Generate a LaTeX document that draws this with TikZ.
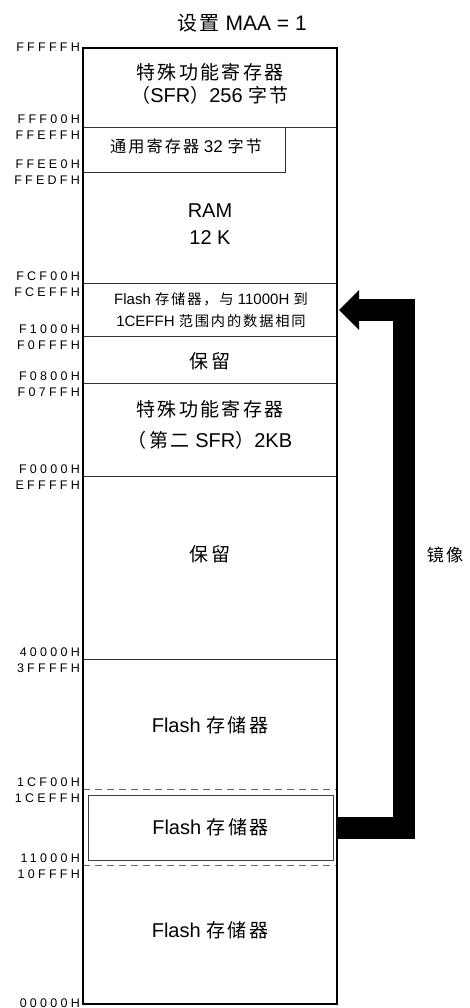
\documentclass[tikz,border=0pt]{standalone}
\usepackage{fontspec}
\setmainfont{Liberation Sans}
\newfontfamily\cjk[Scale=0.95,LetterSpace=13]{Noto Sans CJK SC}
\newfontfamily\addrfont[LetterSpace=26]{Liberation Sans}
\usetikzlibrary{arrows.meta}
\newcommand\C[1]{{\cjk #1}}
\begin{document}
\begin{tikzpicture}[x=1pt,y=-1pt,
  addr/.style={anchor=base east, inner sep=0pt, font=\addrfont\fontsize{12.5}{14}\selectfont},
  lbl/.style={align=center, inner sep=0pt, font=\fontsize{20}{23}\selectfont},
  sep/.style={line width=0.7pt, black!80},
  dashline/.style={line width=0.8pt, black!60, dash pattern=on 7pt off 5pt},
  border/.style={line width=1.2pt},
  innerbox/.style={draw=black!75, line width=0.8pt, minimum width=245pt, minimum height=65pt, inner sep=0pt, align=center, font=\fontsize{20}{23}\selectfont},
  mirrorarrow/.style={line width=22pt, line join=miter, -{Triangle[length=20pt,width=40pt,line width=0pt]}}]
\useasboundingbox (0,0) rectangle (470,1008);
% separators
\draw[sep] (83,127) -- (337,127);
\draw[sep] (83,172) -- (285,172) -- (285,127);
\draw[sep] (83,283) -- (337,283);
\draw[sep] (83,336) -- (337,336);
\draw[sep] (83,383) -- (337,383);
\draw[sep] (83,476) -- (337,476);
\draw[sep] (83,659) -- (337,659);
\draw[dashline] (83,789) -- (337,789);
\draw[dashline] (83,865) -- (337,865);
\draw[border] (83,48) rectangle (337,1004);
% texts
\node[lbl, font=\fontsize{21}{24}\selectfont] (title) at (242,23) {\C{设置} MAA = 1};
\node[lbl] (sfr) at (210,84) {\C{特殊功能寄存器}\\\C{（}SFR\C{）}256 \C{字节}};
\node[lbl, font=\fontsize{17}{20}\selectfont] (gpr) at (186,146) {\C{通用寄存器} 32 \C{字节}};
\node[lbl, font=\fontsize{20}{27}\selectfont] (ram) at (210,224) {RAM\\12 K};
\node[lbl, font=\fontsize{15}{22}\selectfont] (mirror) at (211,310) {Flash \C{存储器，与} 11000H \C{到}\\1CEFFH \C{范围内的数据相同}};
\node[lbl] (res1) at (210,361) {\C{保留}};
\node[lbl, font=\fontsize{20}{31}\selectfont] (sfr2) at (210,425) {\C{特殊功能寄存器}\\\C{（第二} SFR\C{）}2KB};
\node[lbl] (res2) at (210,554) {\C{保留}};
\node[lbl] (flash1) at (210,725) {Flash \C{存储器}};
\node[innerbox] (flashin) at (210.5,827.5) {Flash \C{存储器}};
\node[lbl] (flash0) at (210,930) {Flash \C{存储器}};
\node[lbl, font=\fontsize{18}{20}\selectfont] (mirrorlbl) at (445,555) {\C{镜像}};
% addresses
\node[addr] (a1) at (80,52) {FFFFFH};
\node[addr] (a2) at (80,124) {FFF00H};
\node[addr] (a3) at (80,140) {FFEFFH};
\node[addr] (a4) at (80,169) {FFEE0H};
\node[addr] (a5) at (80,185) {FFEDFH};
\node[addr] (a6) at (80,280) {FCF00H};
\node[addr] (a7) at (80,296) {FCEFFH};
\node[addr] (a8) at (80,333) {F1000H};
\node[addr] (a9) at (80,349) {F0FFFH};
\node[addr] (a10) at (80,380) {F0800H};
\node[addr] (a11) at (80,396) {F07FFH};
\node[addr] (a12) at (80,473) {F0000H};
\node[addr] (a13) at (80,489) {EFFFFH};
\node[addr] (a14) at (80,656) {40000H};
\node[addr] (a15) at (80,672) {3FFFFH};
\node[addr] (a16) at (80,786) {1CF00H};
\node[addr] (a17) at (80,802) {1CEFFH};
\node[addr] (a18) at (80,862) {11000H};
\node[addr] (a19) at (80,878) {10FFFH};
\node[addr] (a20) at (80,1007) {00000H};
% mirror arrow
\coordinate (src) at (338,828);
\coordinate (c1) at (404,828);
\coordinate (c2) at (404,310);
\coordinate (dst) at (339,310);
\draw[mirrorarrow] (src) -- (c1) -- (c2) -- (dst);
\end{tikzpicture}
\end{document}
